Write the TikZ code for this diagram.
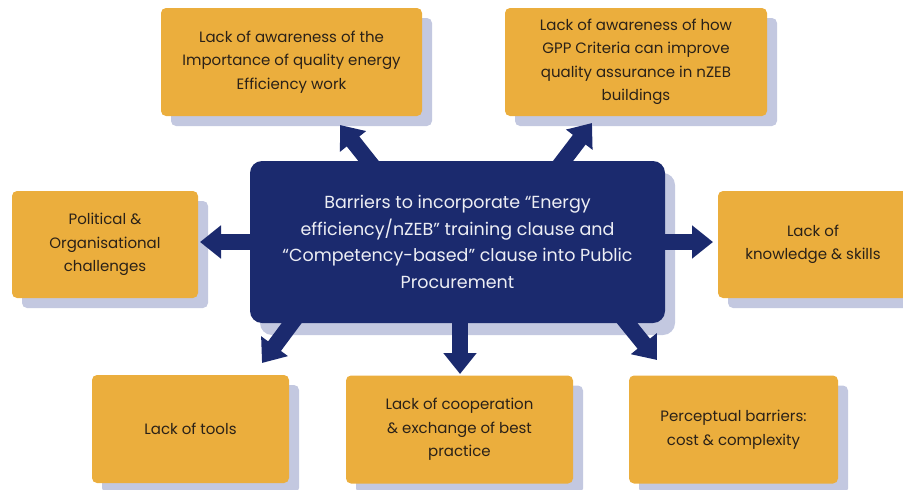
\documentclass[tikz,border=0pt]{standalone}
\usepackage{fontspec}
\setmainfont{Poppins}
\usetikzlibrary{arrows.meta,shadows,calc}

\definecolor{boxorange}{HTML}{EBAE3D}
\definecolor{hubnavy}{HTML}{1B2A6E}
\definecolor{shadelav}{HTML}{C3C8E0}
\definecolor{textbrown}{HTML}{2A2118}

\tikzset{
  lackbox/.style={fill=boxorange, rounded corners=5pt, align=center,
    text=textbrown, minimum height=108pt, inner sep=4pt,
    font=\fontsize{15}{23.5}\selectfont,
    drop shadow={shadow xshift=10pt, shadow yshift=-10pt, fill=shadelav, opacity=1}},
  hubbox/.style={fill=hubnavy, rounded corners=12pt, align=center,
    text=white!92!hubnavy, minimum width=415pt, minimum height=162pt,
    font=\fontsize{17.5}{26.5}\selectfont,
    drop shadow={shadow xshift=10pt, shadow yshift=-12pt, fill=shadelav, opacity=1}},
  barrow/.style={draw=hubnavy, line width=16pt,
    -{Triangle[length=21pt,width=32pt]}}
}

\begin{document}
\begin{tikzpicture}[x=1pt,y=-1pt]
    \useasboundingbox (0,0) rectangle (903,490);
    % central barrier box
    \node[hubbox] (hub) at (457.5,242) {Barriers to incorporate “Energy\\ efficiency/nZEB” training clause and\\ “Competency-based” clause into Public\\ Procurement};
    % the seven barriers
    \node[lackbox, minimum width=261pt] (aware) at (291.5,62) {Lack of awareness of the\\ Importance of quality energy\\ Efficiency work};
    \node[lackbox, minimum width=262pt] (gpp) at (636,62) {Lack of awareness of how\\ GPP Criteria can improve\\ quality assurance in nZEB\\ buildings};
    \node[lackbox, minimum width=186pt, minimum height=107pt] (polit) at (105,244.5) {Political \&\\ Organisational\\ challenges};
    \node[lackbox, minimum width=190pt, minimum height=107pt] (skills) at (813,244.5) {Lack of\\ knowledge \& skills};
    \node[lackbox, minimum width=197pt] (tools) at (190.5,429) {Lack of tools};
    \node[lackbox, minimum width=227pt] (coop) at (459.5,429.5) {Lack of cooperation\\ \& exchange of best\\ practice};
    \node[lackbox, minimum width=209pt] (percep) at (733.5,429.5) {Perceptual barriers:\\ cost \& complexity};
    % arrow tips
    \coordinate (tipaware) at (340,125);
    \coordinate (tipgpp) at (592,123);
    \coordinate (tippolit) at (200,242);
    \coordinate (tipskills) at (713,242);
    \coordinate (tiptools) at (262,363);
    \coordinate (tipcoop) at (460,374);
    \coordinate (tippercep) at (657,360);
    % arrows out of the hub
    \draw[barrow] ($(hub.north)+(-78,14)$) -- (tipaware);
    \draw[barrow] ($(hub.north)+(95,14)$) -- (tipgpp);
    \draw[barrow] ($(hub.west)+(15,0)$) -- (tippolit);
    \draw[barrow] ($(hub.east)+(-15,0)$) -- (tipskills);
    \draw[barrow] ($(hub.south)+(-157,-12)$) -- (tiptools);
    \draw[barrow] ($(hub.south)+(2.5,-12)$) -- (tipcoop);
    \draw[barrow] ($(hub.south)+(160,-12)$) -- (tippercep);
\end{tikzpicture}
\end{document}
